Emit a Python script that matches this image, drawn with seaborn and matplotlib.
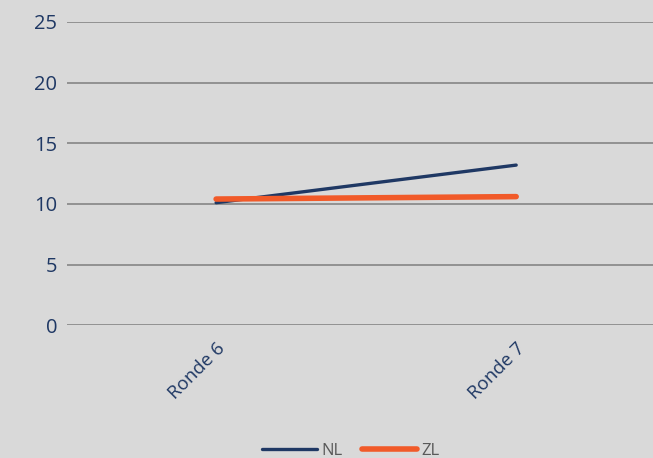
import numpy as np
import pandas as pd
import matplotlib
matplotlib.use('Agg')
import matplotlib.pyplot as plt
import seaborn as sns
from matplotlib.lines import Line2D

# dane
rondes = ['Ronde 6', 'Ronde 7']
nl = [10.1, 13.2]
zl = [10.4, 10.6]
y_ticks = [0, 5, 10, 15, 20, 25]

df = pd.DataFrame({'Ronde': rondes * 2,
                   'Waarde': nl + zl,
                   'Groep': ['NL'] * 2 + ['ZL'] * 2})
df['x'] = [0, 1, 0, 1]

sns.set_theme(style='white')
plt.rcParams['font.family'] = ['Open Sans', 'DejaVu Sans']

bg = '#d9d9d9'
fig = plt.figure(figsize=(6.53, 4.58), dpi=100, facecolor=bg)
ax = fig.add_axes([67 / 653, 0.290, 1 - 67 / 653, 0.662])
ax.set_facecolor(bg)

sns.lineplot(data=df, x='x', y='Waarde', hue='Groep',
             palette={'NL': '#1f3864', 'ZL': '#f15a29'}, ax=ax, legend=False,
             solid_capstyle='round')
ax.lines[0].set_linewidth(2.4)
ax.lines[1].set_linewidth(4.0)

ax.set_xlim(-0.497, 1.456)
ax.set_ylim(0, 25)
ax.set_yticks(y_ticks)
ax.set_xticks([0, 1])
ax.set_xticklabels(rondes, rotation=45, ha='right', va='top',
                   rotation_mode='anchor', color='#1f3864', fontsize=13.5)
ax.tick_params(axis='y', labelcolor='#1f3864', labelsize=14.5, length=0, pad=7)
ax.tick_params(axis='x', length=0, pad=10)
ax.grid(axis='y', color='#8c8c8c', linewidth=1.3)
for s in ax.spines.values():
    s.set_visible(False)
ax.set_xlabel('')
ax.set_ylabel('')

handles = [Line2D([], [], color='#1f3864', lw=2.4, solid_capstyle='round'),
           Line2D([], [], color='#f15a29', lw=4.0, solid_capstyle='round')]
fig.legend(handles, ['NL', 'ZL'], loc='lower center', bbox_to_anchor=(0.537, -0.035),
           ncol=2, frameon=False, handlelength=3.3, handletextpad=0.25,
           columnspacing=1.2, labelcolor='#595959', fontsize=12)

fig.savefig('out.png', dpi=100, facecolor=bg)
